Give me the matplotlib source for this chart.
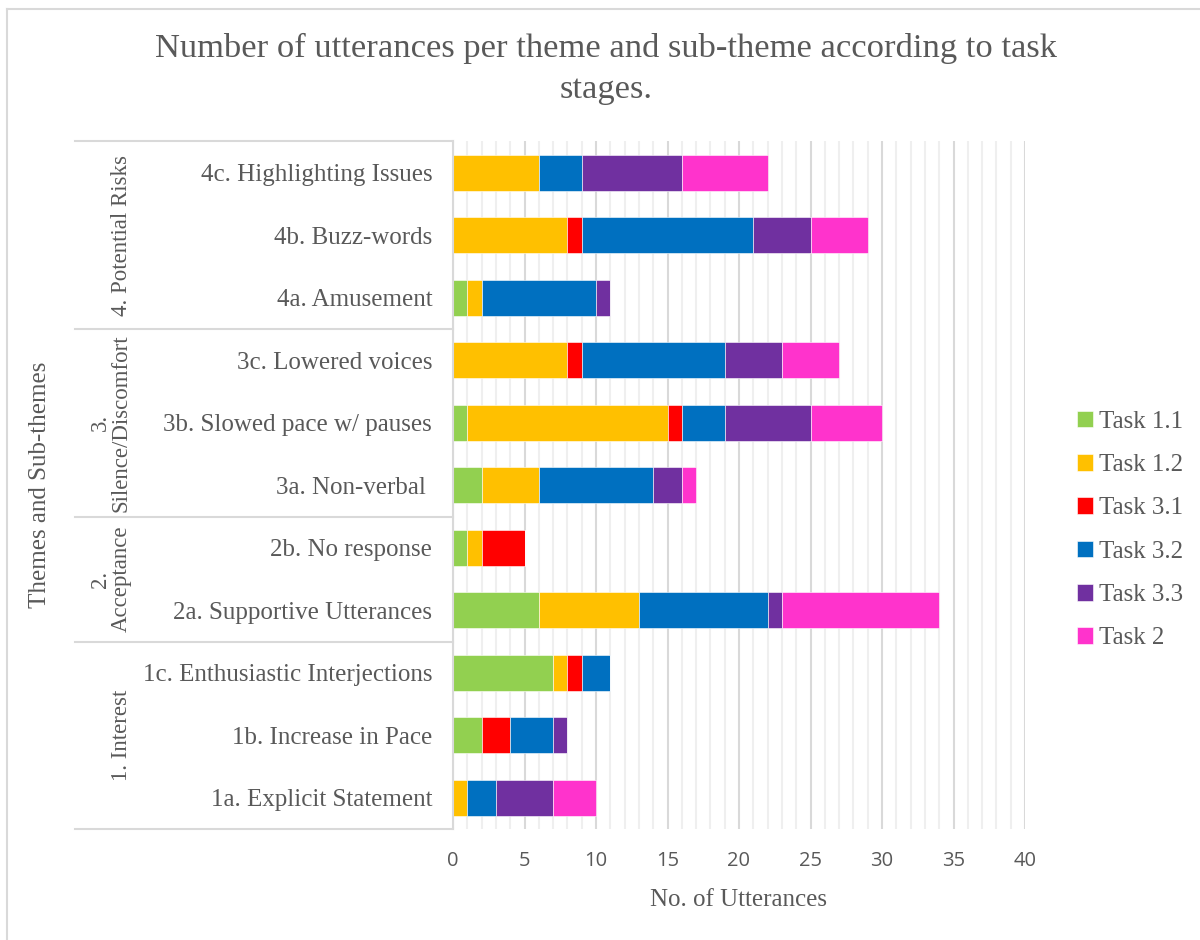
import matplotlib
matplotlib.use("Agg")
import matplotlib.pyplot as plt
from matplotlib.lines import Line2D
from matplotlib.transforms import blended_transform_factory

# Sub-themes, bottom to top
subthemes = [
    "1a. Explicit Statement",
    "1b. Increase in Pace",
    "1c. Enthusiastic Interjections",
    "2a. Supportive Utterances",
    "2b. No response",
    "3a. Non-verbal ",
    "3b. Slowed pace w/ pauses",
    "3c. Lowered voices",
    "4a. Amusement",
    "4b. Buzz-words",
    "4c. Highlighting Issues",
]

# Themes: label, first and last sub-theme index
themes = [
    ("1. Interest", 0, 2),
    ("2.\nAcceptance", 3, 4),
    ("3.\nSilence/Discomfort", 5, 7),
    ("4. Potential Risks", 8, 10),
]

series_names = ["Task 1.1", "Task 1.2", "Task 3.1", "Task 3.2", "Task 3.3", "Task 2"]
task_1_1 = [0, 2, 7, 6, 1, 2, 1, 0, 1, 0, 0]
task_1_2 = [1, 0, 1, 7, 1, 4, 14, 8, 1, 8, 6]
task_3_1 = [0, 2, 1, 0, 3, 0, 1, 1, 0, 1, 0]
task_3_2 = [2, 3, 2, 9, 0, 8, 3, 10, 8, 12, 3]
task_3_3 = [4, 1, 0, 1, 0, 2, 6, 4, 1, 4, 7]
task_2 = [3, 0, 0, 11, 0, 1, 5, 4, 0, 4, 6]
series = [task_1_1, task_1_2, task_3_1, task_3_2, task_3_3, task_2]
colors = ["#92D050", "#FFC000", "#FF0000", "#0070C0", "#7030A0", "#FF33CC"]

text_gray = "#595959"
serif = ["Liberation Serif", "DejaVu Serif"]

fig = plt.figure(figsize=(12, 9.4), dpi=100)
ax = fig.add_axes([453 / 1200, 1 - 829 / 940, (1025 - 453) / 1200, (829 - 141.5) / 940])

# stacked bars
ypos = list(range(len(subthemes)))
left = [0] * len(subthemes)
for name, vals, col in zip(series_names, series, colors):
    ax.barh(ypos, vals, left=left, height=0.58, color=col, label=name,
            edgecolor="white", linewidth=0.4, zorder=3)
    left = [a + b for a, b in zip(left, vals)]

ax.set_xlim(0, 40)
ax.set_ylim(-0.5, len(subthemes) - 0.5)
ax.set_xticks(range(0, 41, 5))
ax.set_xticks(range(0, 41), minor=True)
ax.grid(axis="x", which="major", color="#d9d9d9", linewidth=1.5, zorder=0)
ax.grid(axis="x", which="minor", color="#efefef", linewidth=1.5, zorder=0)
ax.tick_params(axis="x", which="both", length=0, pad=16, labelsize=14.5,
               labelcolor=text_gray)
for lab in ax.get_xticklabels():
    lab.set_fontfamily(["Open Sans", "DejaVu Sans"])

ax.set_yticks(ypos)
ax.set_yticklabels(subthemes, fontsize=18, color=text_gray, fontfamily=serif)
ax.tick_params(axis="y", length=0, pad=15)

for s in ["top", "right", "bottom"]:
    ax.spines[s].set_visible(False)
ax.spines["left"].set_color("#d9d9d9")
ax.spines["left"].set_linewidth(1.5)
ax.spines["left"].set_zorder(4)

ax.set_xlabel("No. of Utterances", fontsize=18, color=text_gray, fontfamily=serif,
              labelpad=13)

# multi-level category axis
tr = blended_transform_factory(fig.transFigure, ax.transData)
bounds = [-0.5] + [t[2] + 0.5 for t in themes]
for b in bounds:
    ax.add_line(Line2D([75 / 1200, 453 / 1200], [b, b], transform=tr,
                       color="#d9d9d9", linewidth=1.5, clip_on=False))
for label, lo, hi in themes:
    fig.text(132 / 1200, (lo + hi) / 2, label, transform=tr, rotation=90,
             ha="right", va="center", multialignment="center", fontsize=16.5,
             color=text_gray, fontfamily=serif, linespacing=1.0)

fig.text(40 / 1200, 1 - 485 / 940, "Themes and Sub-themes", rotation=90,
         ha="center", va="center", fontsize=18, color=text_gray, fontfamily=serif)

fig.text(606 / 1200, 1 - 69 / 940,
         "Number of utterances per theme and sub-theme according to task\nstages.",
         ha="center", va="center", fontsize=24.8, color=text_gray,
         fontfamily=serif, linespacing=1.42)

leg = ax.legend(loc="center left", bbox_to_anchor=(1054 / 1200, 1 - 530 / 940),
                bbox_transform=fig.transFigure, frameon=False,
                prop={"family": serif, "size": 18}, handlelength=0.65,
                handleheight=0.65, handletextpad=0.25, labelspacing=0.85)
for t in leg.get_texts():
    t.set_color(text_gray)

# chart border (left and top edges visible)
fig.add_artist(Line2D([7 / 1200, 7 / 1200], [0, 1 - 9 / 940], transform=fig.transFigure,
                      color="#d9d9d9", linewidth=1.5))
fig.add_artist(Line2D([7 / 1200, 1], [1 - 9 / 940, 1 - 9 / 940], transform=fig.transFigure,
                      color="#d9d9d9", linewidth=1.5))

fig.savefig("out.png", dpi=100, facecolor="white")
